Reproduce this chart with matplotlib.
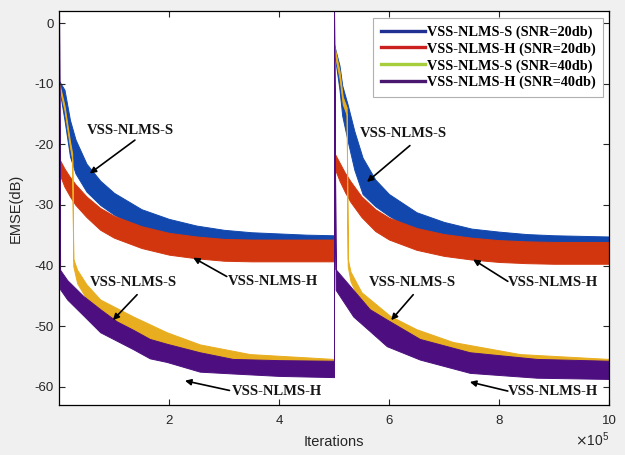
import numpy as np
import matplotlib
matplotlib.use("Agg")
import matplotlib.pyplot as plt
from matplotlib.lines import Line2D

# iterations are in units of 1e5, EMSE in dB (band centre and half width)
x_s20 = [0, 0.1, 0.2, 0.3, 0.5, 0.75, 1.0, 1.5, 2.0, 2.5, 3.0, 3.5, 4.0, 4.5, 5.0,
         5.0, 5.1, 5.15, 5.25, 5.37, 5.52, 5.75, 6.0, 6.5, 7.0, 7.5, 8.0, 8.5, 9.0, 9.5, 10.0]
emse_s20 = [-10, -13.5, -19, -22, -25.5, -28, -29.8, -32.3, -33.8, -34.8, -35.5, -35.9, -36.1, -36.3, -36.4,
            -4, -9, -12.8, -16.5, -21, -25.2, -28, -30, -32.8, -34.3, -35.3, -35.8, -36.2, -36.4, -36.5, -36.6]
hw_s20 = [0.5, 2.5, 3.0, 2.8, 2.3, 2.0, 1.8, 1.6, 1.5, 1.4, 1.4, 1.4, 1.4, 1.4, 1.4,
          0.5, 2.0, 2.5, 3.0, 3.2, 3.0, 2.2, 1.8, 1.6, 1.5, 1.4, 1.4, 1.4, 1.4, 1.4, 1.4]

x_h20 = [0, 0.1, 0.2, 0.3, 0.5, 0.75, 1.0, 1.5, 2.0, 2.5, 3.0, 3.5, 4.0, 4.5, 5.0,
         5.0, 5.1, 5.2, 5.3, 5.5, 5.75, 6.0, 6.5, 7.0, 7.5, 8.0, 8.5, 9.0, 9.5, 10.0]
emse_h20 = [-23.5, -25.5, -27, -28.3, -30.3, -32.3, -33.6, -35.3, -36.4, -37, -37.4, -37.5, -37.5, -37.5, -37.5,
            -22.5, -24.5, -26.3, -27.8, -30.3, -32.5, -33.9, -35.6, -36.6, -37.2, -37.6, -37.8, -37.9, -37.9, -37.9]
hw_h20 = [1.2, 1.5, 1.6, 1.7, 1.7, 1.8, 1.8, 1.8, 1.8, 1.8, 1.8, 1.8, 1.8, 1.8, 1.8,
          1.2, 1.5, 1.6, 1.7, 1.7, 1.8, 1.8, 1.8, 1.8, 1.8, 1.8, 1.8, 1.8, 1.8, 1.8]

x_s40 = [0, 0.1, 0.2, 0.24, 0.26, 0.33, 0.5, 0.75, 1.35, 1.96, 2.56, 3.47, 5.0,
         5.0, 5.1, 5.16, 5.23, 5.25, 5.3, 5.5, 6.02, 6.5, 7.16, 8.38, 10.0]
emse_s40 = [-10, -14, -20, -22, -39.5, -41.8, -44.3, -46.9, -49.7, -52.3, -54.2, -55.7, -56.3,
            -4, -8.5, -12.8, -14.5, -39.5, -41.8, -45.5, -49.6, -51.8, -53.8, -55.6, -56.3]
hw_s40 = [0.3, 0.4, 0.5, 0.5, 0.6, 1.1, 1.2, 1.3, 1.3, 1.3, 1.2, 1.1, 0.9,
          0.5, 0.6, 0.6, 0.6, 0.6, 0.8, 1.1, 1.3, 1.3, 1.2, 1.0, 0.9]

x_h40 = [0, 0.02, 0.15, 0.44, 0.75, 1.05, 1.35, 1.65, 1.96, 2.56, 3.16, 4.0, 5.0,
         5.0, 5.03, 5.35, 5.65, 5.96, 6.56, 7.47, 8.69, 10.0]
emse_h40 = [3, -42.3, -44.0, -46.6, -49.1, -50.8, -52.2, -53.7, -54.4, -55.9, -56.6, -56.9, -57.05,
            3, -42.3, -46.2, -49.0, -51.1, -53.8, -56.0, -56.95, -57.2]
hw_h40 = [0, 1.6, 1.6, 1.6, 1.9, 1.6, 1.6, 1.6, 1.5, 1.6, 1.2, 1.3, 1.35,
          0, 1.7, 2.2, 1.8, 2.2, 1.7, 1.7, 1.55, 1.5]

labels = ["VSS-NLMS-S (SNR=20db)", "VSS-NLMS-H (SNR=20db)",
          "VSS-NLMS-S (SNR=40db)", "VSS-NLMS-H (SNR=40db)"]
yticks = [0, -10, -20, -30, -40, -50, -60]
xticks = [2, 4, 6, 8, 10]

band_colors = ["#1248ad", "#d2360f", "#e9ae1f", "#4d0f80"]
legend_colors = ["#1f2f92", "#cc2020", "#a6cd3c", "#4a176e"]

fig = plt.figure(figsize=(6.25, 4.55), dpi=100)
fig.patch.set_facecolor("#f0f0f0")
ax = fig.add_axes([59 / 625, 1 - 405 / 455, 550 / 625, 394 / 455])

series = [(x_s20, emse_s20, hw_s20), (x_h20, emse_h20, hw_h20),
          (x_s40, emse_s40, hw_s40), (x_h40, emse_h40, hw_h40)]
for (x, y, hw), c in zip(series, band_colors):
    x = np.array(x)
    y = np.array(y)
    hw = np.array(hw)
    ax.fill_between(x, y - hw, y + hw, color=c, lw=0.7, edgecolor=c)

ax.set_xlim(0, 10)
ax.set_ylim(-63, 2)
ax.set_xticks(xticks)
ax.set_xticklabels([str(t) for t in xticks])
ax.set_yticks(yticks)
ax.set_yticklabels([str(t) for t in yticks])
ax.tick_params(direction="in", top=True, right=True, length=4, width=0.8,
               labelsize=9.5, colors="#262626")
ax.tick_params(axis="x", pad=7)
ax.tick_params(axis="y", pad=4)
for sp in ax.spines.values():
    sp.set_linewidth(0.9)
for lab in ax.get_xticklabels() + ax.get_yticklabels():
    lab.set_family("Liberation Sans")
    lab.set_color("#262626")

ax.set_xlabel("Iterations", family="Liberation Sans", fontsize=10.5, color="#262626", labelpad=6)
ax.set_ylabel("EMSE(dB)", family="Liberation Sans", fontsize=10.5, color="#262626", labelpad=8)
ax.text(1.0, -0.088, r"$\times\mathregular{10^{5}}$", transform=ax.transAxes, ha="right",
        va="center", fontsize=10, family="Liberation Sans", color="#262626")

handles = [Line2D([], [], color=c, lw=2.4) for c in legend_colors]
leg = ax.legend(handles, labels, loc="upper right", bbox_to_anchor=(0.989, 0.982),
                borderaxespad=0, fancybox=False, framealpha=1, edgecolor="#b0b0b0",
                prop={"family": "Liberation Serif", "weight": "bold", "size": 10.3},
                handlelength=3.1, handletextpad=0.15, labelspacing=0.24, borderpad=0.5)
leg.get_frame().set_linewidth(0.8)

notes = [
    ("VSS-NLMS-S", (1.29, -17.7), (1.38, -19.3), (0.56, -24.8)),
    ("VSS-NLMS-H", (3.89, -42.6), (3.05, -41.8), (2.44, -38.7)),
    ("VSS-NLMS-S", (1.35, -42.8), (1.42, -44.8), (0.98, -49.0)),
    ("VSS-NLMS-H", (3.96, -60.7), (3.10, -60.6), (2.29, -59.0)),
    ("VSS-NLMS-S", (6.27, -18.2), (6.38, -20.2), (5.60, -26.2)),
    ("VSS-NLMS-H", (8.98, -42.8), (8.16, -42.6), (7.53, -39.0)),
    ("VSS-NLMS-S", (6.42, -42.8), (6.44, -44.8), (6.04, -49.0)),
    ("VSS-NLMS-H", (8.98, -60.7), (8.16, -60.7), (7.47, -59.2)),
]
for txt, tpos, start, tip in notes:
    ax.text(tpos[0], tpos[1], txt, ha="center", va="center", family="Liberation Serif",
            weight="bold", fontsize=10.5, color="#151515")
    ax.annotate("", xy=tip, xytext=start,
                arrowprops=dict(arrowstyle="-|>", color="black", lw=1.2,
                                mutation_scale=9, shrinkA=0, shrinkB=0))

fig.savefig("out.png", dpi=100, facecolor=fig.get_facecolor())
